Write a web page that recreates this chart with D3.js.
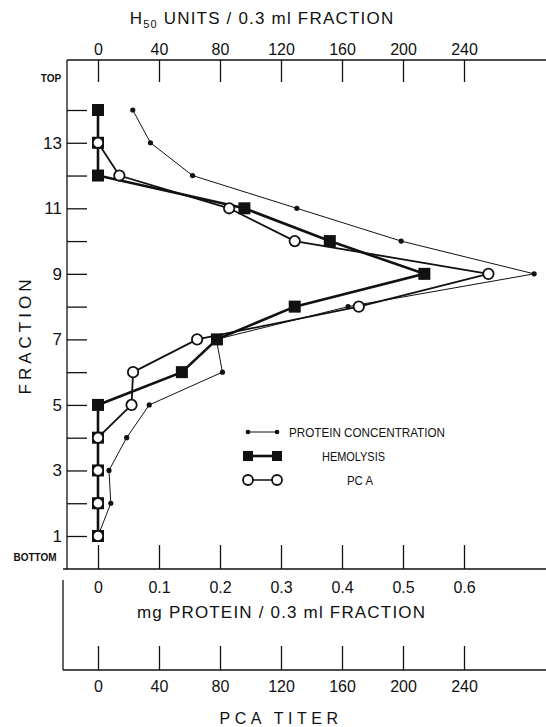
<!DOCTYPE html>
<html>
<head>
<meta charset="utf-8">
<script src="https://cdn.jsdelivr.net/npm/d3@7"></script>
<style>
  html, body { margin: 0; padding: 0; background: #fff; }
  svg { display: block; }
  text { font-family: "Liberation Sans", Arial, Helvetica, sans-serif; fill: #111; }
</style>
</head>
<body>
<svg id="chart" width="546" height="727"></svg>
<script>
// ---- data ----
const fractions = [1, 2, 3, 4, 5, 6, 7, 8, 9, 10, 11, 12, 13, 14];
const proteinMg = [0.0, 0.021, 0.018, 0.047, 0.084, 0.204, 0.194, 0.41, 0.715, 0.497, 0.326, 0.155, 0.086, 0.057];
const hemolysisH50 = [0, 0, 0, 0, 0, 55, 78, 129, 214, 152, 96, 0, 0, 0];
const pcaFractions = [1, 2, 3, 4, 5, 6, 7, 8, 9, 10, 11, 12, 13];
const pcaTiter = [0, 0, 0, 0, 22, 23, 65, 171, 256, 129, 86, 14, 0];
const unitTicks = [0, 40, 80, 120, 160, 200, 240];
const mgTicks = [0, 0.1, 0.2, 0.3, 0.4, 0.5, 0.6];
const fractionTicks = [1, 2, 3, 4, 5, 6, 7, 8, 9, 10, 11, 12, 13, 14];
const legendLabels = ["PROTEIN CONCENTRATION", "HEMOLYSIS", "PC A"];

const svg = d3.select("#chart");

// ---- scales ----
const xUnits = d3.scaleLinear().domain([0, 240]).range([98, 464]);
const xMg = d3.scaleLinear().domain([0, 0.6]).range([98, 464]);
const y = d3.scaleLinear().domain([1, 14]).range([536, 110]);

const axisLeftX = 67, topY = 60, mgY = 569, pcaY = 670, pcaLeftX = 63;

// ---- frame lines ----
svg.append("line").attr("x1", axisLeftX).attr("x2", 546).attr("y1", topY).attr("y2", topY)
  .attr("stroke", "#111").attr("stroke-width", 1.3);
svg.append("line").attr("x1", axisLeftX).attr("x2", axisLeftX).attr("y1", topY).attr("y2", mgY)
  .attr("stroke", "#111").attr("stroke-width", 1.3);
svg.append("line").attr("x1", pcaLeftX).attr("x2", 546).attr("y1", mgY).attr("y2", mgY)
  .attr("stroke", "#111").attr("stroke-width", 1.3);
svg.append("line").attr("x1", pcaLeftX).attr("x2", pcaLeftX).attr("y1", 580).attr("y2", pcaY)
  .attr("stroke", "#111").attr("stroke-width", 1.3);
svg.append("line").attr("x1", pcaLeftX).attr("x2", 546).attr("y1", pcaY).attr("y2", pcaY)
  .attr("stroke", "#111").attr("stroke-width", 1.3);

function styleAxis(g) {
  g.select(".domain").remove();
  g.selectAll(".tick line").attr("stroke", "#111").attr("stroke-width", 1.3);
  g.selectAll(".tick text").attr("font-size", 16).attr("fill", "#111");
}

// top axis (H50 units)
svg.append("g").attr("transform", `translate(0,${topY})`)
  .call(d3.axisTop(xUnits).tickValues(unitTicks).tickSizeInner(-22).tickSizeOuter(0).tickPadding(5))
  .call(styleAxis);

// left axis (fraction)
svg.append("g").attr("transform", `translate(${axisLeftX},0)`)
  .call(d3.axisLeft(y).tickValues(fractionTicks).tickSizeInner(-20).tickSizeOuter(0).tickPadding(5)
    .tickFormat(d => d % 2 === 1 ? String(d) : ""))
  .call(styleAxis)
  .call(g => g.selectAll(".tick text").attr("font-size", 17));

// mg axis
svg.append("g").attr("transform", `translate(0,${mgY})`)
  .call(d3.axisBottom(xMg).tickValues(mgTicks).tickSizeInner(-24).tickSizeOuter(0).tickPadding(13)
    .tickFormat(d => d === 0 ? "0" : d3.format(".1f")(d)))
  .call(styleAxis);

// PCA titer axis
svg.append("g").attr("transform", `translate(0,${pcaY})`)
  .call(d3.axisBottom(xUnits).tickValues(unitTicks).tickSizeInner(-24).tickSizeOuter(0).tickPadding(11))
  .call(styleAxis);

// ---- titles ----
const topTitle = svg.append("text").attr("x", 262).attr("y", 24).attr("text-anchor", "middle")
  .attr("font-size", 17).attr("letter-spacing", 1.2);
topTitle.append("tspan").text("H");
topTitle.append("tspan").attr("font-size", 11).attr("dy", 4).text("50");
topTitle.append("tspan").attr("dy", -4).text(" UNITS / 0.3 ml  FRACTION");

svg.append("text").attr("x", 137).attr("y", 618)
  .attr("font-size", 17).attr("textLength", 288).attr("lengthAdjust", "spacing")
  .text("mg  PROTEIN / 0.3 ml  FRACTION");

svg.append("text").attr("x", 281).attr("y", 724).attr("text-anchor", "middle")
  .attr("font-size", 16).attr("letter-spacing", 4.5).text("PCA  TITER");

svg.append("text").attr("transform", "translate(31,335) rotate(-90)").attr("text-anchor", "middle")
  .attr("font-size", 17).attr("letter-spacing", 4).text("FRACTION");

svg.append("text").attr("x", 51).attr("y", 82).attr("text-anchor", "middle")
  .attr("font-size", 10).attr("font-weight", "bold").text("TOP");
svg.append("text").attr("x", 35).attr("y", 561).attr("text-anchor", "middle")
  .attr("font-size", 10).attr("font-weight", "bold").text("BOTTOM");

// ---- series ----
const protPts = fractions.map((f, i) => [xMg(proteinMg[i]), y(f)]);
const hemPts = fractions.map((f, i) => [xUnits(hemolysisH50[i]), y(f)]);
const pcaPts = pcaFractions.map((f, i) => [xUnits(pcaTiter[i]), y(f)]);
const line = d3.line();

svg.append("path").attr("d", line(protPts)).attr("fill", "none").attr("stroke", "#111").attr("stroke-width", 1);
svg.append("path").attr("d", line(hemPts)).attr("fill", "none").attr("stroke", "#111").attr("stroke-width", 2.6);
svg.append("path").attr("d", line(pcaPts)).attr("fill", "none").attr("stroke", "#111").attr("stroke-width", 1.8);

svg.selectAll("circle.prot").data(protPts).join("circle").attr("class", "prot")
  .attr("cx", d => d[0]).attr("cy", d => d[1]).attr("r", 2.6).attr("fill", "#111");

const sq = 12;
svg.selectAll("rect.hem").data(hemPts).join("rect").attr("class", "hem")
  .attr("x", d => d[0] - sq / 2).attr("y", d => d[1] - sq / 2)
  .attr("width", sq).attr("height", sq).attr("fill", "#111");

svg.selectAll("circle.pca").data(pcaPts).join("circle").attr("class", "pca")
  .attr("cx", d => d[0]).attr("cy", d => d[1]).attr("r", 5.2)
  .attr("fill", "#fff").attr("stroke", "#111").attr("stroke-width", 1.8);

// ---- legend ----
const lg = svg.append("g");
const lx1 = 248, lx2 = 277;
// protein
lg.append("line").attr("x1", lx1).attr("x2", lx2).attr("y1", 432).attr("y2", 432).attr("stroke", "#111").attr("stroke-width", 1);
[lx1, lx2].forEach(x => lg.append("circle").attr("cx", x).attr("cy", 432).attr("r", 2.3).attr("fill", "#111"));
lg.append("text").attr("x", 289).attr("y", 437).attr("font-size", 13)
  .attr("textLength", 156).attr("lengthAdjust", "spacingAndGlyphs").text(legendLabels[0]);
// hemolysis
lg.append("line").attr("x1", lx1).attr("x2", lx2).attr("y1", 456).attr("y2", 456).attr("stroke", "#111").attr("stroke-width", 2.6);
[lx1, lx2].forEach(x => lg.append("rect").attr("x", x - 5).attr("y", 451).attr("width", 10).attr("height", 10).attr("fill", "#111"));
lg.append("text").attr("x", 322).attr("y", 461).attr("font-size", 13)
  .attr("textLength", 63).attr("lengthAdjust", "spacingAndGlyphs").text(legendLabels[1]);
// PCA
lg.append("line").attr("x1", lx1).attr("x2", lx2).attr("y1", 480).attr("y2", 480).attr("stroke", "#111").attr("stroke-width", 1.5);
[lx1, lx2].forEach(x => lg.append("circle").attr("cx", x).attr("cy", 480).attr("r", 5)
  .attr("fill", "#fff").attr("stroke", "#111").attr("stroke-width", 1.8));
lg.append("text").attr("x", 347).attr("y", 485).attr("font-size", 13)
  .attr("textLength", 26).attr("lengthAdjust", "spacingAndGlyphs").text(legendLabels[2]);
</script>
</body>
</html>
